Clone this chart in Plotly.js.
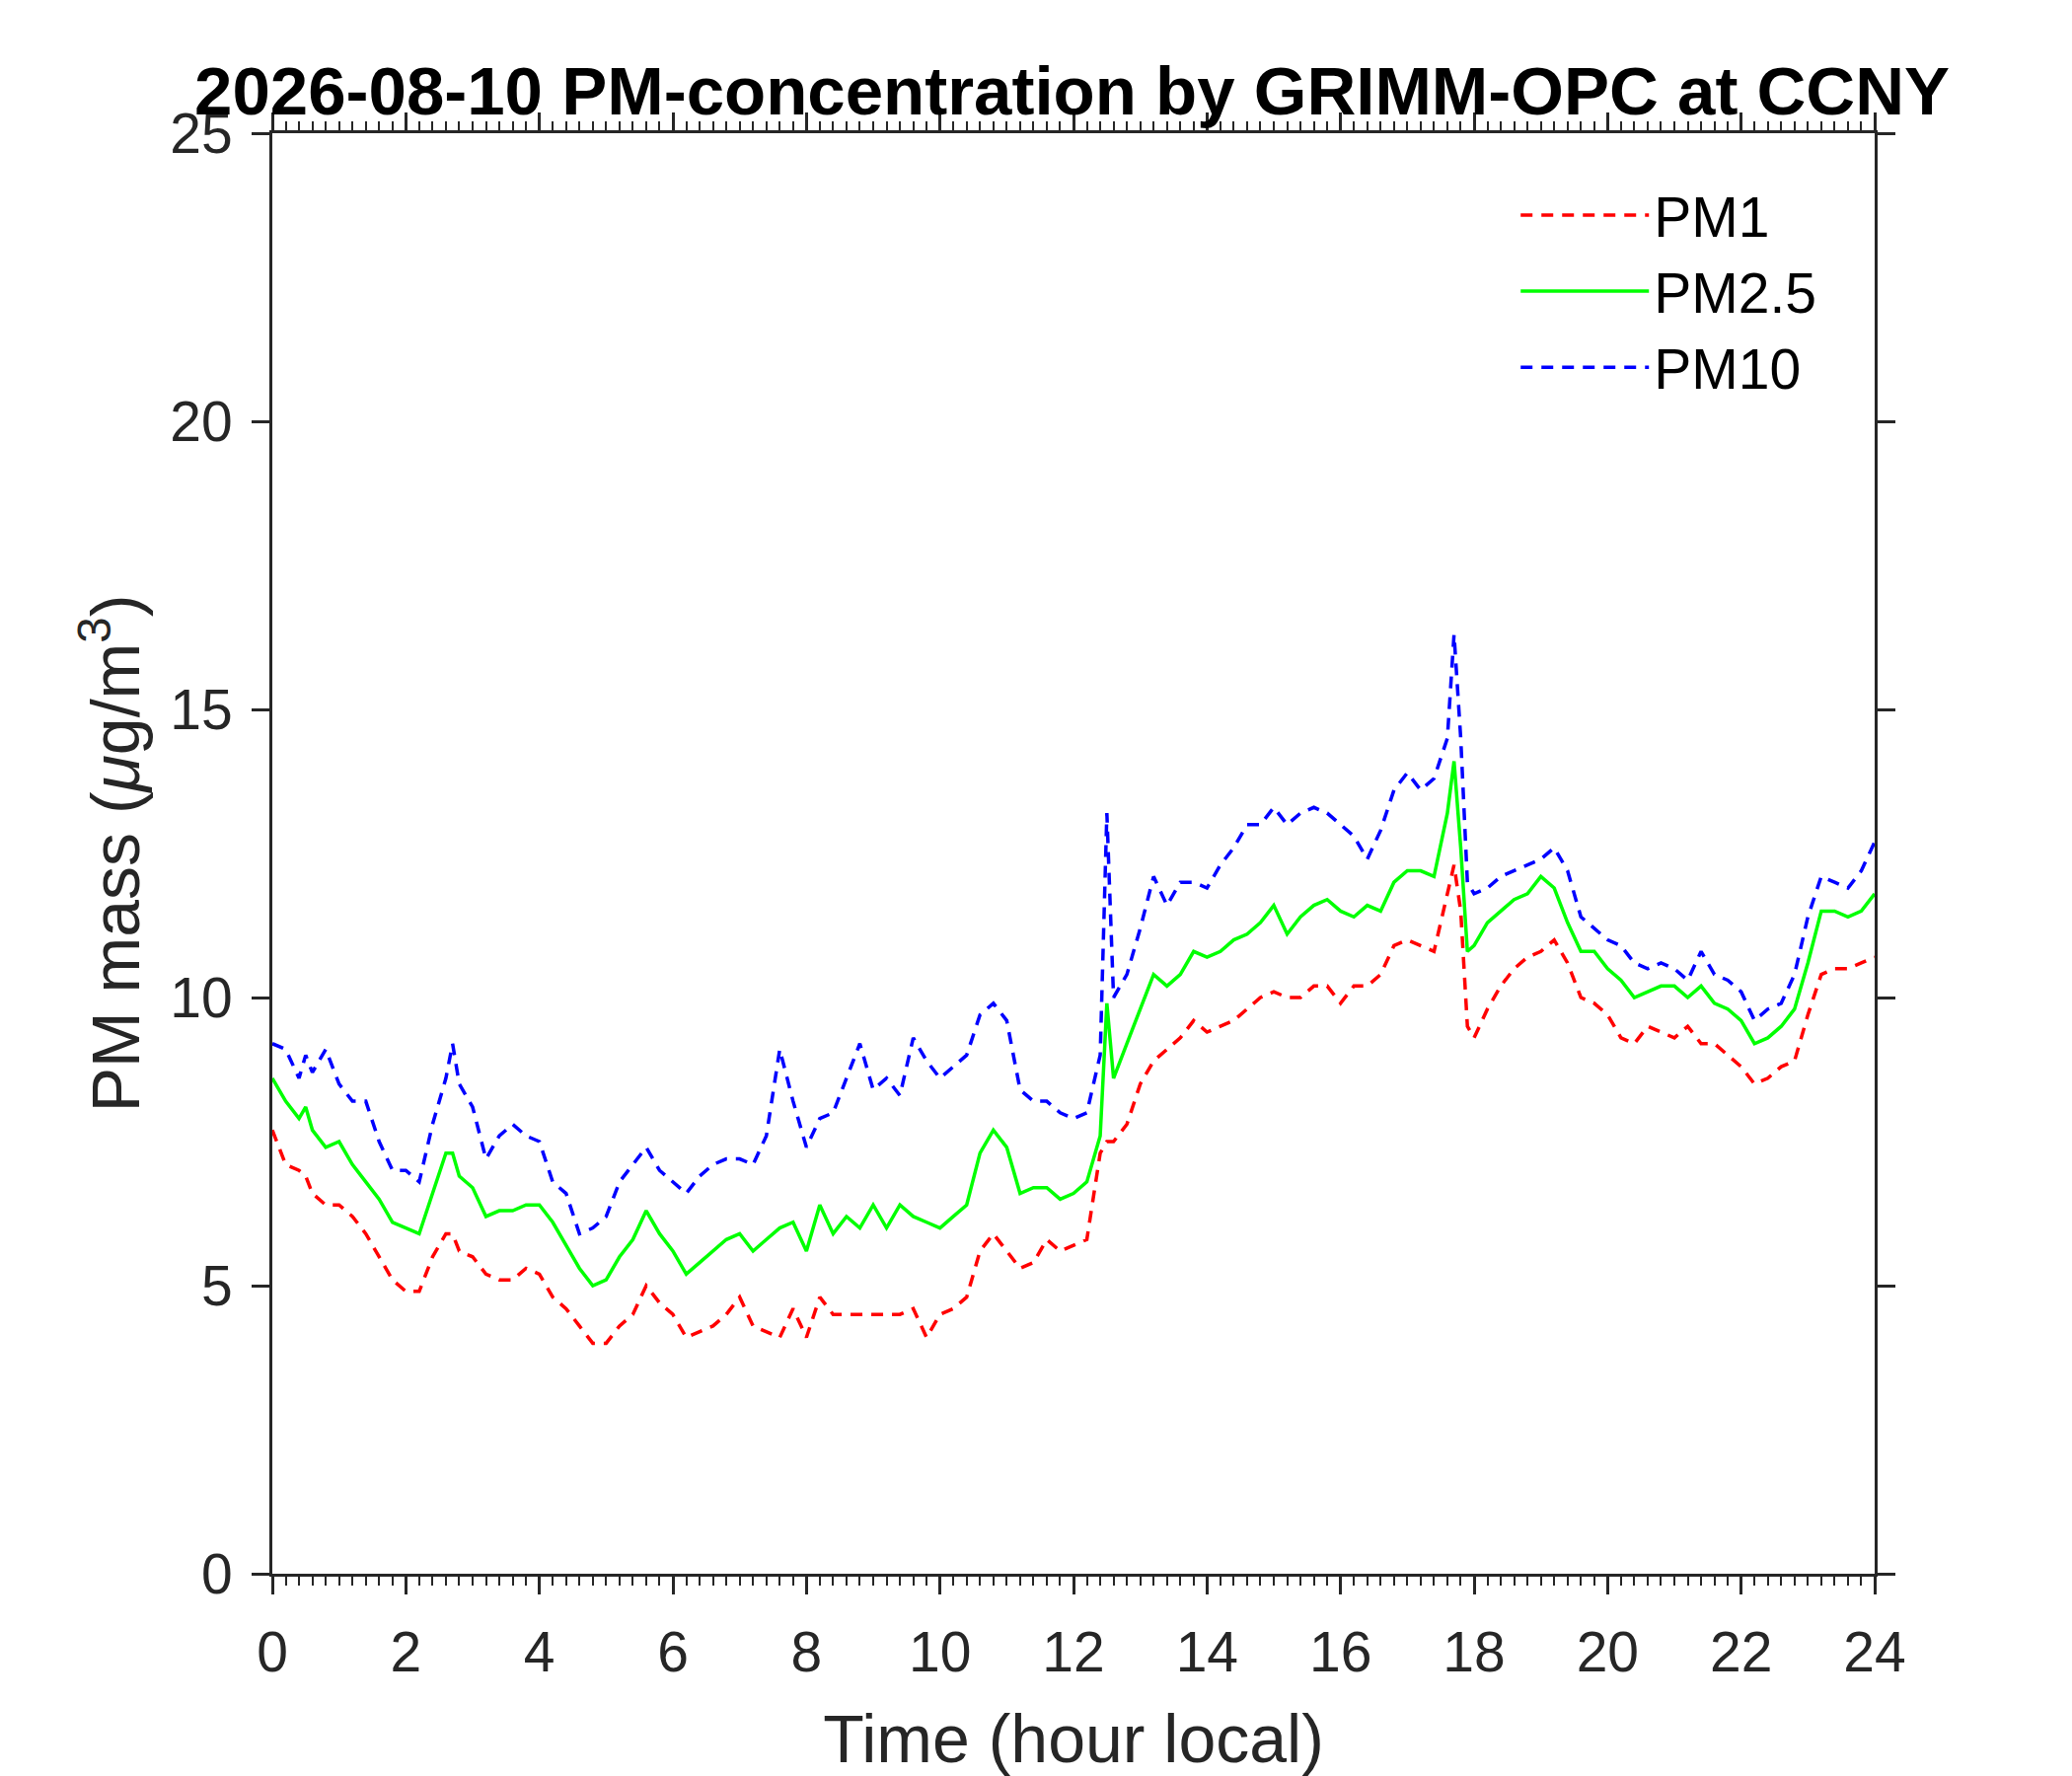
<!DOCTYPE html>
<html lang="en">
<head>
    <meta charset="UTF-8">
    <title>PM-concentration by GRIMM-OPC at CCNY</title>
    <script src="https://cdn.plot.ly/plotly-3.0.1.min.js"></script>
    <style>
        * { margin: 0; padding: 0; box-sizing: border-box; }
        body { background: #ffffff; }
        #plot { width: 2100px; height: 1800px; }
    </style>
</head>
<body>
    <div id="plot"></div>

    <script>
        // local time of each reading (hours)
        const hours = [
            0.0, 0.2, 0.4, 0.5, 0.6, 0.8, 1.0, 1.2, 1.4, 1.6, 1.8,
            2.0, 2.2, 2.4, 2.6, 2.7, 2.8, 3.0, 3.2, 3.4, 3.6, 3.8,
            4.0, 4.2, 4.4, 4.6, 4.8, 5.0, 5.2, 5.4, 5.6, 5.8,
            6.0, 6.2, 6.4, 6.6, 6.8, 7.0, 7.2, 7.4, 7.6, 7.8,
            8.0, 8.2, 8.4, 8.6, 8.8, 9.0, 9.2, 9.4, 9.6, 9.8,
            10.0, 10.2, 10.4, 10.6, 10.8, 11.0, 11.2, 11.4, 11.6, 11.8,
            12.0, 12.2, 12.4, 12.5, 12.6, 12.8, 13.0, 13.2, 13.4, 13.6, 13.8,
            14.0, 14.2, 14.4, 14.6, 14.8, 15.0, 15.2, 15.4, 15.6, 15.8,
            16.0, 16.2, 16.4, 16.6, 16.8, 17.0, 17.2, 17.4, 17.6, 17.7, 17.8, 17.9,
            18.0, 18.2, 18.4, 18.6, 18.8, 19.0, 19.2, 19.4, 19.6, 19.8,
            20.0, 20.2, 20.4, 20.6, 20.8, 21.0, 21.2, 21.4, 21.6, 21.8,
            22.0, 22.2, 22.4, 22.6, 22.8, 23.0, 23.2, 23.4, 23.6, 23.8, 24.0
        ];

        const pm1 = [
            7.7, 7.1, 7.0, 6.9, 6.6, 6.4, 6.4, 6.2, 5.9, 5.5, 5.1,
            4.9, 4.9, 5.5, 5.9, 5.9, 5.6, 5.5, 5.2, 5.1, 5.1, 5.3,
            5.2, 4.8, 4.6, 4.3, 4.0, 4.0, 4.3, 4.5, 5.0, 4.7,
            4.5, 4.1, 4.2, 4.3, 4.5, 4.8, 4.3, 4.2, 4.1, 4.6,
            4.1, 4.8, 4.5, 4.5, 4.5, 4.5, 4.5, 4.5, 4.6, 4.1,
            4.5, 4.6, 4.8, 5.6, 5.9, 5.6, 5.3, 5.4, 5.8, 5.6,
            5.7, 5.8, 7.3, 7.5, 7.5, 7.8, 8.5, 8.9, 9.1, 9.3, 9.6,
            9.4, 9.5, 9.6, 9.8, 10.0, 10.1, 10.0, 10.0, 10.2, 10.2,
            9.9, 10.2, 10.2, 10.4, 10.9, 11.0, 10.9, 10.8, 11.8, 12.3, 11.5, 9.5,
            9.3, 9.8, 10.2, 10.5, 10.7, 10.8, 11.0, 10.6, 10.0, 9.9,
            9.7, 9.3, 9.2, 9.5, 9.4, 9.3, 9.5, 9.2, 9.2, 9.0,
            8.8, 8.5, 8.6, 8.8, 8.9, 9.7, 10.4, 10.5, 10.5, 10.6, 10.7
        ];

        const pm25 = [
            8.6, 8.2, 7.9, 8.1, 7.7, 7.4, 7.5, 7.1, 6.8, 6.5, 6.1,
            6.0, 5.9, 6.6, 7.3, 7.3, 6.9, 6.7, 6.2, 6.3, 6.3, 6.4,
            6.4, 6.1, 5.7, 5.3, 5.0, 5.1, 5.5, 5.8, 6.3, 5.9,
            5.6, 5.2, 5.4, 5.6, 5.8, 5.9, 5.6, 5.8, 6.0, 6.1,
            5.6, 6.4, 5.9, 6.2, 6.0, 6.4, 6.0, 6.4, 6.2, 6.1,
            6.0, 6.2, 6.4, 7.3, 7.7, 7.4, 6.6, 6.7, 6.7, 6.5,
            6.6, 6.8, 7.6, 9.9, 8.6, 9.2, 9.8, 10.4, 10.2, 10.4, 10.8,
            10.7, 10.8, 11.0, 11.1, 11.3, 11.6, 11.1, 11.4, 11.6, 11.7,
            11.5, 11.4, 11.6, 11.5, 12.0, 12.2, 12.2, 12.1, 13.2, 14.1, 12.6, 10.8,
            10.9, 11.3, 11.5, 11.7, 11.8, 12.1, 11.9, 11.3, 10.8, 10.8,
            10.5, 10.3, 10.0, 10.1, 10.2, 10.2, 10.0, 10.2, 9.9, 9.8,
            9.6, 9.2, 9.3, 9.5, 9.8, 10.6, 11.5, 11.5, 11.4, 11.5, 11.8
        ];

        const pm10 = [
            9.2, 9.1, 8.6, 9.0, 8.7, 9.1, 8.5, 8.2, 8.2, 7.5, 7.0,
            7.0, 6.8, 7.8, 8.6, 9.2, 8.5, 8.1, 7.2, 7.6, 7.8, 7.6,
            7.5, 6.8, 6.6, 5.9, 6.0, 6.2, 6.8, 7.1, 7.4, 7.0,
            6.8, 6.6, 6.9, 7.1, 7.2, 7.2, 7.1, 7.6, 9.1, 8.2,
            7.4, 7.9, 8.0, 8.6, 9.2, 8.4, 8.6, 8.3, 9.3, 8.9,
            8.6, 8.8, 9.0, 9.7, 9.9, 9.6, 8.4, 8.2, 8.2, 8.0,
            7.9, 8.0, 9.0, 13.2, 10.0, 10.4, 11.2, 12.1, 11.6, 12.0, 12.0,
            11.9, 12.3, 12.6, 13.0, 13.0, 13.3, 13.0, 13.2, 13.3, 13.2,
            13.0, 12.8, 12.4, 12.9, 13.6, 13.9, 13.6, 13.8, 14.5, 16.3, 14.5, 12.0,
            11.8, 11.9, 12.1, 12.2, 12.3, 12.4, 12.6, 12.2, 11.4, 11.2,
            11.0, 10.9, 10.6, 10.5, 10.6, 10.5, 10.3, 10.8, 10.4, 10.3,
            10.1, 9.6, 9.8, 9.9, 10.4, 11.4, 12.1, 12.0, 11.9, 12.2, 12.7
        ];

        const seriesNames = ['PM1', 'PM2.5', 'PM10'];
        const xTickVals = [0, 2, 4, 6, 8, 10, 12, 14, 16, 18, 20, 22, 24];
        const yTickVals = [0, 5, 10, 15, 20, 25];

        const axisColor = '#262626';
        const fontFamily = '"Liberation Sans", Arial, sans-serif';
        const dashStyle = '12px,9px';

        const traces = [
            {
                x: hours, y: pm1, name: seriesNames[0],
                type: 'scatter', mode: 'lines',
                line: { color: '#ff0000', width: 3.5, dash: dashStyle }
            },
            {
                x: hours, y: pm25, name: seriesNames[1],
                type: 'scatter', mode: 'lines',
                line: { color: '#00ff00', width: 3.5 }
            },
            {
                x: hours, y: pm10, name: seriesNames[2],
                type: 'scatter', mode: 'lines',
                line: { color: '#0000ff', width: 3.5, dash: dashStyle }
            }
        ];

        const layout = {
            width: 2100,
            height: 1800,
            margin: { l: 276, r: 200, t: 135, b: 205 },
            paper_bgcolor: '#ffffff',
            plot_bgcolor: '#ffffff',
            font: { family: fontFamily, color: axisColor, size: 57 },
            title: {
                text: '<b>2026-08-10 PM-concentration by GRIMM-OPC at CCNY</b>',
                font: { family: fontFamily, size: 69, color: '#000000' },
                xref: 'container', x: 0.5174, xanchor: 'center',
                yref: 'container', y: 0.949, yanchor: 'middle'
            },
            xaxis: {
                range: [0, 24],
                tickvals: xTickVals,
                ticktext: xTickVals.map(String),
                ticks: 'outside', ticklen: 18, tickwidth: 3, tickcolor: axisColor,
                minor: { dtick: 0.2, ticks: 'outside', ticklen: 9, tickwidth: 2, tickcolor: axisColor, showgrid: false },
                showline: true, linecolor: axisColor, linewidth: 3,
                mirror: 'allticks',
                showgrid: false, zeroline: false,
                tickfont: { size: 57, color: axisColor },
                ticklabelstandoff: 10,
                title: {
                    text: 'Time (hour local)',
                    font: { size: 68, color: axisColor },
                    standoff: 34
                }
            },
            yaxis: {
                range: [0, 25],
                tickvals: yTickVals,
                ticktext: yTickVals.map(String),
                ticks: 'outside', ticklen: 18, tickwidth: 3, tickcolor: axisColor,
                showline: true, linecolor: axisColor, linewidth: 3,
                mirror: 'allticks',
                showgrid: false, zeroline: false,
                tickfont: { size: 57, color: axisColor },
                ticklabelstandoff: 8,
                title: {
                    text: 'PM mass (<i>μ</i>g/m<sup>3</sup>)',
                    font: { size: 68, color: axisColor },
                    standoff: 9
                }
            },
            showlegend: true,
            legend: {
                x: 0.776, xanchor: 'left',
                y: 0.973, yanchor: 'top',
                bgcolor: 'rgba(255,255,255,0)',
                borderwidth: 0,
                font: { size: 57, color: '#000000' },
                itemwidth: 130,
                tracegroupgap: 0
            }
        };

        Plotly.newPlot('plot', traces, layout, { displayModeBar: false, staticPlot: true });
    </script>
</body>
</html>
